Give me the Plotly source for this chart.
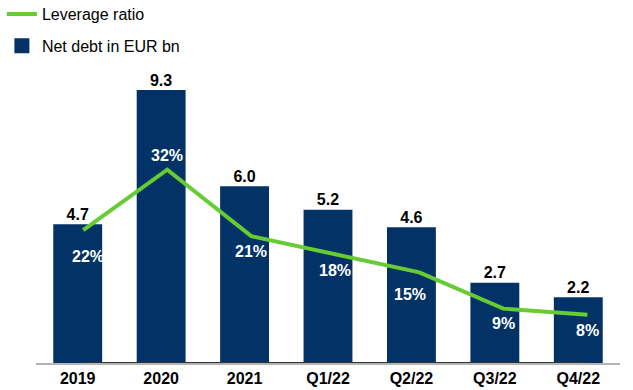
import plotly.graph_objects as go

categories = ["2019", "2020", "2021", "Q1/22", "Q2/22", "Q3/22", "Q4/22"]
net_debt = [4.7, 9.3, 6.0, 5.2, 4.6, 2.7, 2.2]
leverage = [22, 32, 21, 18, 15, 9, 8]

NAVY = "#033366"
GREEN = "#66CC33"
FONT = "Liberation Sans, Arial, sans-serif"

W, H = 633, 390
PLOT_L, PLOT_R, PLOT_T, PLOT_B = 36, 620, 60, 363

fig = go.Figure()
fig.add_trace(go.Bar(
    x=categories, y=net_debt, name="Net debt in EUR bn",
    marker=dict(color=NAVY, line=dict(width=3, color=NAVY)),
    width=0.55,
    text=[f"{v:.1f}" for v in net_debt], textposition="outside",
    textfont=dict(family=FONT, size=16, color="black", weight="bold"),
    cliponaxis=True, legendrank=2, legendgroup="b",
))
fig.add_trace(go.Scatter(
    x=categories, y=leverage, name="Leverage ratio", mode="lines",
    line=dict(color=GREEN, width=4),
    xaxis="x2", yaxis="y2", legendrank=1, legendgroup="a", cliponaxis=False,
))

yshifts = [-26, 14, -15, -16, -22, -15, -16]
xshifts = [5, 0, 0, 0, -9, 0, 0]
annotations = []
for i, (v, ys, xs) in enumerate(zip(leverage, yshifts, xshifts)):
    annotations.append(dict(
        x=i, y=v, xref="x2", yref="y2", text=f"{v}%", showarrow=False,
        yshift=ys, xshift=xs,
        font=dict(family=FONT, size=16, color="white", weight="bold"),
    ))

# dark baseline segment spanning the leverage line's category range
shapes = [dict(type="line", xref="x2", yref="y", x0=0, x1=len(categories) - 1,
               y0=0, y1=0, line=dict(color="#333333", width=2), layer="above")]

fig.update_layout(
    width=W, height=H,
    margin=dict(l=0, r=0, t=0, b=H - PLOT_B, autoexpand=False),
    paper_bgcolor="white", plot_bgcolor="white",
    font=dict(family=FONT, size=16, color="black"),
    xaxis=dict(type="category", categoryarray=categories, range=[-0.5, 6.5],
               domain=[PLOT_L / W, PLOT_R / W],
               showline=True, linecolor="#b4b4b4", linewidth=2, layer="below traces",
               showgrid=False, ticks="", zeroline=False,
               tickfont=dict(family=FONT, size=16, color="black", weight="bold")),
    xaxis2=dict(type="category", categoryarray=categories, range=[-0.562, 6.388],
                overlaying="x", anchor="y", visible=False),
    yaxis=dict(range=[0, 10.38], domain=[0, (PLOT_B - PLOT_T) / PLOT_B],
               visible=False, showgrid=False, zeroline=False),
    yaxis2=dict(range=[0, 50.17], overlaying="y", anchor="x", visible=False,
                showgrid=False, zeroline=False),
    legend=dict(x=0.003, y=1.008, xanchor="left", yanchor="top",
                traceorder="grouped", tracegroupgap=8,
                font=dict(family=FONT, size=16, color="black"),
                bgcolor="rgba(0,0,0,0)"),
    annotations=annotations,
    shapes=shapes,
    showlegend=True,
)

fig.write_html(
    "out.html",
    config={"displayModeBar": False},
    post_script="document.body.style.margin='0';document.body.style.overflow='hidden';",
)
